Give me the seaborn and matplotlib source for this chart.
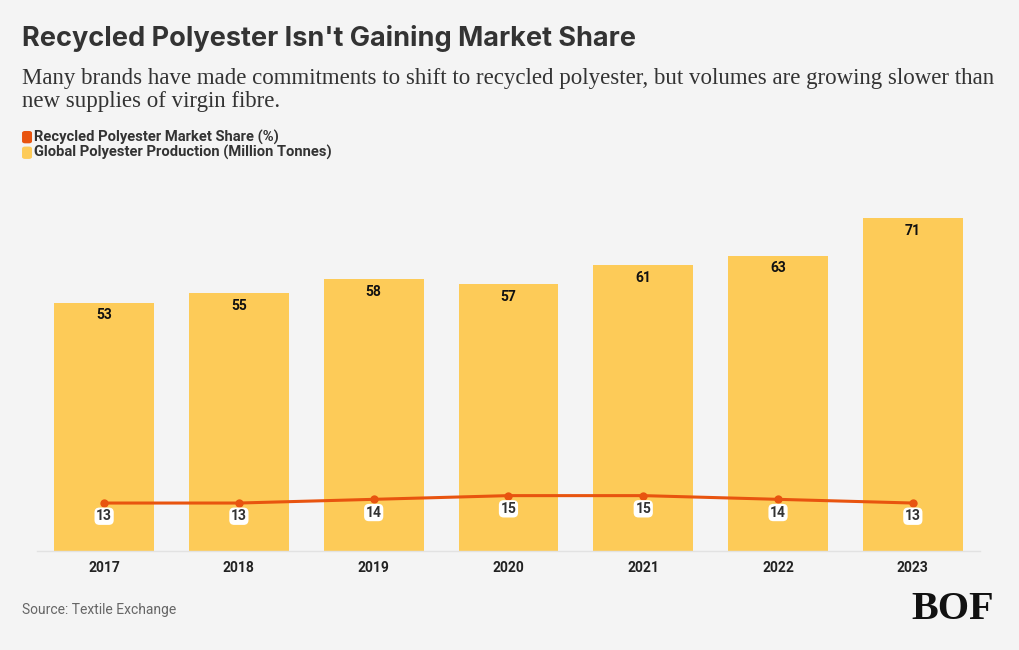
"""
Recycled polyester vs global polyester production (BoF style chart)
"""

import matplotlib.pyplot as plt
from matplotlib.patches import FancyBboxPatch
import numpy as np
import pandas as pd
import seaborn as sns

years = ['2017', '2018', '2019', '2020', '2021', '2022', '2023']
production = [53, 55, 58, 57, 61, 63, 71]       # million tonnes
recycled_share = [13, 13, 14, 15, 15, 14, 13]   # percent

BG = '#F4F4F4'
BAR = '#FDCB58'
LINE = '#E8540F'
DARK = '#333333'

sns.set_theme(style='white')
plt.rcParams['font.family'] = ['Roboto', 'DejaVu Sans']

df = pd.DataFrame({'year': years, 'production': production, 'share': recycled_share})

fig = plt.figure(figsize=(10.2, 6.5), dpi=100, facecolor=BG)
ax = fig.add_axes([0.036, 0.152, 0.925, 0.57])
ax.set_facecolor(BG)

sns.barplot(data=df, x='year', y='production', color=BAR, width=0.74,
            saturation=1, edgecolor='none', linewidth=0, ax=ax, zorder=2)
ax.set_xlim(-0.5, len(years) - 0.5)
ax.set_ylim(0, 79)

for i, v in enumerate(production):
    ax.text(i, v - 1.2, f'{v}', ha='center', va='top', fontsize=10,
            fontweight='bold', color='#111111', zorder=5)

ax2 = ax.twinx()
sns.lineplot(x=np.arange(len(years)), y=recycled_share, color=LINE, linewidth=2.2,
             marker='o', markersize=6, markeredgewidth=0, ax=ax2, zorder=3)
ax2.set_ylim(0, 100)
for i, v in enumerate(recycled_share):
    ax2.annotate(f'{v}', (i, v), xytext=(0, -9.5), textcoords='offset points',
                 ha='center', va='center', fontsize=10, fontweight='bold', color=DARK,
                 bbox=dict(boxstyle='round,pad=0.12,rounding_size=0.35', fc='white', ec='none'))

for a in (ax, ax2):
    a.set_xlabel('')
    a.set_ylabel('')
    a.set_yticks([])
    for s in a.spines.values():
        s.set_visible(False)
ax.spines['bottom'].set_visible(True)
ax.spines['bottom'].set_color('#E2E2E2')
ax.spines['bottom'].set_linewidth(1)
ax.tick_params(axis='x', length=0, pad=7)
for lbl in ax.get_xticklabels():
    lbl.set_fontweight('bold')
    lbl.set_fontsize(10)
    lbl.set_color('#222222')

# Title, subtitle, legend
fig.text(0.0216, 0.94, "Recycled Polyester Isn't Gaining Market Share", fontsize=19.5,
         fontweight='bold', color=DARK, va='center', family=['Inter', 'Roboto', 'DejaVu Sans'])
fig.text(0.0216, 0.862, 'Many brands have made commitments to shift to recycled polyester, '
         'but volumes are growing slower than\nnew supplies of virgin fibre.',
         fontsize=16.5, family=['Liberation Serif', 'DejaVu Serif'], color=DARK,
         va='center', linespacing=1.1)

legend_items = [('Recycled Polyester Market Share (%)', LINE, 0.789),
                ('Global Polyester Production (Million Tonnes)', BAR, 0.765)]
for label, col, y in legend_items:
    fig.patches.append(FancyBboxPatch((0.0216, y - 0.0095), 0.0098, 0.019,
                                      boxstyle='round,pad=0,rounding_size=0.003',
                                      transform=fig.transFigure, fc=col, ec='none'))
    fig.text(0.0336, y, label, fontsize=10.6, fontweight='bold', color=DARK, va='center')

fig.text(0.0216, 0.061, 'Source: Textile Exchange', fontsize=10, color='#666666', va='center')
fig.text(0.934, 0.062, 'BOF', fontsize=29, fontweight='bold', color='#111111',
         family=['Liberation Serif', 'DejaVu Serif'], ha='center', va='center')

plt.savefig('out.png', dpi=100, facecolor=BG)
plt.close()
